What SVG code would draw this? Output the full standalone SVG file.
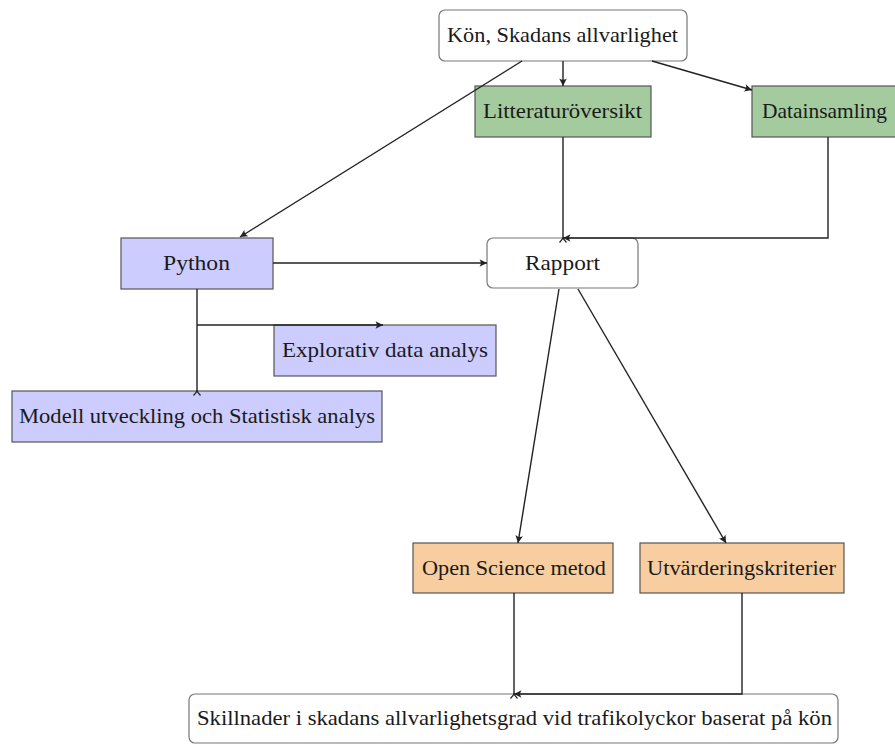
<svg xmlns="http://www.w3.org/2000/svg" width="895" height="745" viewBox="0 0 895 745">
<style>
.box{stroke:#555;stroke-width:1.2}
.rnd{fill:#fff;stroke:#777;stroke-width:1.2}
.g{fill:#a3cb9e}
.b{fill:#ccccff}
.o{fill:#f8cea0}
text{font-family:"Liberation Serif","Times New Roman",serif;font-size:22px;fill:#1a1a1a;text-anchor:middle}
.c{fill:none;stroke:#222;stroke-width:1.4}
</style>
<defs>
<marker id="ah" markerUnits="userSpaceOnUse" markerWidth="12" markerHeight="10" refX="0" refY="0" viewBox="-8 -5 10 10" orient="auto">
<path d="M0,0 L-7.5,-3.8 Q-4.8,0 -7.5,3.8 Z" fill="#222"/>
</marker>
<marker id="ch" markerUnits="userSpaceOnUse" markerWidth="12" markerHeight="10" refX="0" refY="0" viewBox="-2 -5 10 10" orient="auto">
<path d="M4.5,-3.5 Q1.5,-0.8 0,0 Q1.5,0.8 4.5,3.5" fill="none" stroke="#222" stroke-width="1.2"/>
</marker>
</defs>
<g id="kon">
<rect class="rnd" x="439" y="10" width="248" height="51" rx="6"/>
<text x="562.5" y="42" textLength="231" lengthAdjust="spacingAndGlyphs">Kön, Skadans allvarlighet</text>
</g>
<g id="litteratur">
<rect class="box g" x="475" y="86" width="176" height="51"/>
<text x="562.5" y="118" textLength="159" lengthAdjust="spacingAndGlyphs">Litteraturöversikt</text>
</g>
<g id="datainsamling">
<rect class="box g" x="752" y="86" width="148" height="51"/>
<text x="824.5" y="118" textLength="125" lengthAdjust="spacingAndGlyphs">Datainsamling</text>
</g>
<g id="python">
<rect class="box b" x="121" y="238" width="152" height="51"/>
<text x="196.5" y="270" textLength="67" lengthAdjust="spacingAndGlyphs">Python</text>
</g>
<g id="rapport">
<rect class="rnd" x="487" y="238" width="151" height="50" rx="6"/>
<text x="562.5" y="270" textLength="75" lengthAdjust="spacingAndGlyphs">Rapport</text>
</g>
<g id="explorativ">
<rect class="box b" x="274" y="325" width="222" height="51"/>
<text x="385" y="357" textLength="206" lengthAdjust="spacingAndGlyphs">Explorativ data analys</text>
</g>
<g id="modell">
<rect class="box b" x="12" y="391" width="370" height="51"/>
<text x="197" y="423" textLength="356" lengthAdjust="spacingAndGlyphs">Modell utveckling och Statistisk analys</text>
</g>
<g id="openscience">
<rect class="box o" x="413" y="543" width="200" height="50"/>
<text x="514" y="575" textLength="184" lengthAdjust="spacingAndGlyphs">Open Science metod</text>
</g>
<g id="utvardering">
<rect class="box o" x="640" y="543" width="204" height="50"/>
<text x="741.5" y="575" textLength="189" lengthAdjust="spacingAndGlyphs">Utvärderingskriterier</text>
</g>
<g id="skillnader">
<rect class="rnd" x="189" y="694" width="649" height="49" rx="6"/>
<text x="514.5" y="725" textLength="635" lengthAdjust="spacingAndGlyphs">Skillnader i skadans allvarlighetsgrad vid trafikolyckor baserat på kön</text>
</g>
<g id="connectors">
<line class="c" x1="522" y1="61" x2="240" y2="237" marker-end="url(#ah)"/>
<line class="c" x1="563" y1="61" x2="563" y2="86" marker-end="url(#ah)"/>
<line class="c" x1="652" y1="61" x2="752" y2="90" marker-end="url(#ah)"/>
<line class="c" x1="563" y1="137" x2="563" y2="238" marker-end="url(#ch)"/>
<polyline class="c" points="828,137 828,238 563,238" marker-end="url(#ah)"/>
<line class="c" x1="273" y1="263" x2="487" y2="263" marker-end="url(#ah)"/>
<line class="c" x1="197" y1="289" x2="197" y2="391" marker-end="url(#ch)"/>
<line class="c" x1="197" y1="325" x2="383" y2="325" marker-end="url(#ah)"/>
<line class="c" x1="559" y1="289" x2="518" y2="543" marker-end="url(#ah)"/>
<line class="c" x1="578" y1="289" x2="726" y2="543" marker-end="url(#ah)"/>
<line class="c" x1="514" y1="593" x2="514" y2="694" marker-end="url(#ch)"/>
<polyline class="c" points="742,593 742,694 514,694" marker-end="url(#ah)"/>
</g>
</svg>
